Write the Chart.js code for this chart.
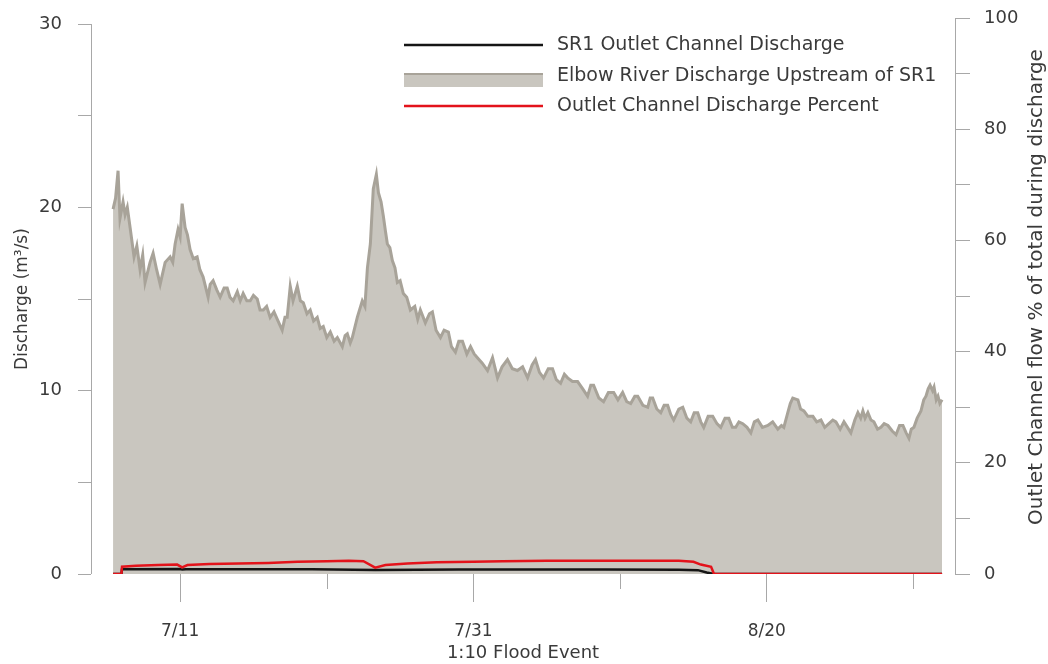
<!DOCTYPE html>
<html><head><meta charset="utf-8">
<script src="https://cdn.jsdelivr.net/npm/chart.js@4.4.1/dist/chart.umd.min.js"></script>
<style>html,body{margin:0;padding:0;background:#fff;} canvas{display:block}</style>
</head><body>
<canvas id="c" width="1048" height="664"></canvas>
<script>
// ---- data (x = day counted from June 30, so 11 = July 11, 32 = Aug 1) ----
const seriesLabels = ['SR1 Outlet Channel Discharge', 'Elbow River Discharge Upstream of SR1', 'Outlet Channel Discharge Percent'];
const xTitle = '1:10 Flood Event';
const yLeftTitle = 'Discharge (m³/s)';
const yRightTitle = 'Outlet Channel flow % of total during discharge';
const xTickValues = [11, 21, 31, 41, 51, 61];
const xTickLabels = ['7/11', '', '7/31', '', '8/20', ''];
const yLeftTicks = [0, 5, 10, 15, 20, 25, 30];
const yRightTicks = [0, 10, 20, 30, 40, 50, 60, 70, 80, 90, 100];

const elbowDays = [6.43,6.60,6.77,6.90,7.11,7.25,7.40,7.59,7.86,8.05,8.27,8.45,8.61,8.95,9.16,9.40,9.64,9.98,10.32,10.50,10.66,10.86,11.00,11.14,11.34,11.50,11.68,11.90,12.16,12.35,12.57,12.91,13.05,13.25,13.50,13.73,14.00,14.21,14.40,14.62,14.90,15.10,15.30,15.55,15.78,16.00,16.26,16.45,16.67,16.90,17.14,17.40,17.62,17.96,18.15,18.30,18.51,18.70,18.99,19.20,19.40,19.65,19.87,20.10,20.35,20.55,20.76,21.00,21.24,21.50,21.72,22.06,22.25,22.40,22.60,22.74,23.08,23.42,23.60,23.77,23.97,24.17,24.38,24.52,24.70,24.86,25.00,25.13,25.30,25.47,25.65,25.81,26.00,26.22,26.45,26.70,27.00,27.20,27.38,27.72,28.00,28.20,28.45,28.75,29.00,29.29,29.50,29.77,30.00,30.25,30.55,30.80,31.05,31.27,31.60,31.96,32.30,32.64,32.95,33.32,33.65,34.00,34.35,34.69,35.00,35.23,35.50,35.78,36.10,36.39,36.65,36.94,37.20,37.42,37.75,38.10,38.45,38.78,39.00,39.19,39.55,39.87,40.20,40.56,40.85,41.17,41.45,41.72,42.00,42.20,42.55,42.88,43.05,43.22,43.50,43.77,44.00,44.24,44.45,44.65,45.00,45.27,45.55,45.81,46.05,46.29,46.50,46.70,47.00,47.31,47.60,47.86,48.15,48.41,48.65,48.88,49.10,49.36,49.65,49.91,50.15,50.39,50.70,51.07,51.40,51.75,52.00,52.16,52.43,52.60,52.77,53.12,53.30,53.53,53.80,54.14,54.40,54.69,54.95,55.23,55.50,55.71,56.00,56.26,56.50,56.73,57.00,57.21,57.40,57.55,57.70,57.89,58.10,58.30,58.55,58.78,59.00,59.26,59.55,59.81,60.05,60.28,60.50,60.69,60.85,61.03,61.25,61.51,61.70,61.85,62.00,62.13,62.30,62.40,62.55,62.67,62.80,62.95];
const elbowFlow = [19.9,20.5,22.0,19.4,20.3,19.6,20.0,18.9,17.3,17.9,16.6,17.4,15.9,17.0,17.5,16.6,15.8,17.0,17.3,17.0,18.0,18.8,18.4,20.2,18.9,18.5,17.7,17.2,17.3,16.6,16.2,15.1,15.8,16.0,15.5,15.1,15.6,15.6,15.1,14.9,15.4,14.9,15.3,14.9,14.9,15.2,15.0,14.4,14.4,14.6,14.0,14.3,13.9,13.3,14.0,14.0,15.7,14.9,15.7,14.9,14.8,14.2,14.4,13.8,14.0,13.4,13.5,12.9,13.2,12.7,12.9,12.4,13.0,13.1,12.6,12.9,14.0,14.9,14.6,16.7,18.0,21.0,21.8,20.8,20.3,19.5,18.7,18.0,17.8,17.1,16.7,15.9,16.0,15.3,15.1,14.4,14.6,13.9,14.4,13.7,14.2,14.3,13.3,12.9,13.3,13.2,12.4,12.1,12.7,12.7,12.0,12.4,12.0,11.8,11.5,11.1,11.8,10.7,11.3,11.7,11.2,11.1,11.3,10.7,11.4,11.7,11.0,10.7,11.2,11.2,10.6,10.4,10.9,10.7,10.5,10.5,10.1,9.7,10.3,10.3,9.6,9.4,9.9,9.9,9.5,9.9,9.4,9.3,9.7,9.7,9.2,9.1,9.6,9.6,9.0,8.8,9.2,9.2,8.7,8.4,9.0,9.1,8.5,8.3,8.8,8.8,8.3,8.0,8.6,8.6,8.2,8.0,8.5,8.5,8.0,8.0,8.3,8.2,8.0,7.7,8.3,8.4,8.0,8.1,8.3,7.9,8.1,8.0,8.8,9.3,9.6,9.5,9.0,8.9,8.6,8.6,8.3,8.4,8.0,8.2,8.4,8.3,7.9,8.3,8.0,7.7,8.4,8.8,8.5,8.9,8.5,8.8,8.4,8.3,7.9,8.0,8.2,8.1,7.8,7.6,8.1,8.1,7.7,7.4,7.9,8.0,8.5,8.9,9.5,9.7,10.1,10.3,10.0,10.2,9.5,9.7,9.3,9.5];

const outletDays = [6.43, 7.00, 7.04, 11.0, 11.14, 11.4, 20.0, 24.3, 30.0, 40.0, 45.0, 46.3, 46.9, 47.4, 62.95];
const outletFlow = [0, 0, 0.26, 0.27, 0.24, 0.26, 0.26, 0.22, 0.25, 0.24, 0.23, 0.21, 0.08, 0, 0];

const percentDays = [6.43, 7.00, 7.04, 8.0, 9.5, 10.8, 11.14, 11.5, 13.0, 15.0, 17.0, 19.0, 21.0, 22.5, 23.5, 24.3, 25.0, 26.5, 28.5, 31.0, 33.0, 36.0, 40.0, 43.0, 45.0, 46.0, 46.5, 47.2, 47.4, 62.95];
const outletPercent = [0, 0, 1.3, 1.5, 1.6, 1.7, 1.2, 1.6, 1.8, 1.9, 2.0, 2.2, 2.3, 2.4, 2.3, 1.15, 1.6, 1.9, 2.1, 2.2, 2.3, 2.4, 2.4, 2.4, 2.4, 2.2, 1.7, 1.3, 0, 0];

const zip = (xs, ys) => xs.map((x, i) => ({x: x, y: ys[i]}));

const FONT = "'DejaVu Sans', sans-serif";
const TEXT = '#3a3a3a';
const AXIS = '#a8a8a8';
const COLORS = {black: '#151515', fill: '#c9c6bf', edge: '#a8a399', red: '#e3131b'};

const extras = {
  id: 'extras',
  afterDraw(chart) {
    const ctx = chart.ctx, ca = chart.chartArea;
    const xs = chart.scales.x, yl = chart.scales.y;
    ctx.save();
    // left axis line from 0 to 30
    ctx.strokeStyle = AXIS; ctx.lineWidth = 1;
    ctx.beginPath();
    ctx.moveTo(Math.round(ca.left) + 0.5, yl.getPixelForValue(30));
    ctx.lineTo(Math.round(ca.left) + 0.5, yl.getPixelForValue(0));
    ctx.stroke();
    // minor x ticks (shorter)
    xTickValues.forEach((v, i) => {
      if (xTickLabels[i]) return;
      const px = Math.round(xs.getPixelForValue(v)) + 0.5;
      ctx.beginPath(); ctx.moveTo(px, ca.bottom); ctx.lineTo(px, ca.bottom + 15); ctx.stroke();
    });
    // axis titles
    ctx.fillStyle = TEXT;
    ctx.textAlign = 'center'; ctx.textBaseline = 'middle';
    ctx.font = '17px ' + FONT;
    ctx.save(); ctx.translate(23, (yl.getPixelForValue(30) + ca.bottom) / 2); ctx.rotate(-Math.PI / 2); ctx.fillText(yLeftTitle, 0, 0); ctx.restore();
    ctx.font = '20px ' + FONT;
    ctx.save(); ctx.translate(1037, 287); ctx.rotate(-Math.PI / 2); ctx.fillText(yRightTitle, 0, 0); ctx.restore();
    // legend
    const lx0 = 404, lx1 = 543, tx = 557, rows = [45, 80, 106];
    ctx.font = '19px ' + FONT;
    ctx.textAlign = 'left';
    // row 1 black
    ctx.strokeStyle = COLORS.black; ctx.lineWidth = 2.5;
    ctx.beginPath(); ctx.moveTo(lx0, rows[0]); ctx.lineTo(lx1, rows[0]); ctx.stroke();
    ctx.fillText(chart.data.datasets[1].label, tx, rows[0]);
    // row 2 grey band
    ctx.fillStyle = COLORS.fill; ctx.fillRect(lx0, rows[1] - 6, lx1 - lx0, 13);
    ctx.fillStyle = COLORS.edge; ctx.fillRect(lx0, rows[1] - 7, lx1 - lx0, 2);
    ctx.fillStyle = TEXT;
    ctx.fillText(chart.data.datasets[2].label, tx, rows[1] - 4);
    // row 3 red
    ctx.strokeStyle = COLORS.red; ctx.lineWidth = 2.5;
    ctx.beginPath(); ctx.moveTo(lx0, rows[2]); ctx.lineTo(lx1, rows[2]); ctx.stroke();
    ctx.fillText(chart.data.datasets[0].label, tx, rows[2]);
    ctx.restore();
  }
};

new Chart(document.getElementById('c'), {
  type: 'line',
  data: {
    datasets: [
      {label: seriesLabels[2], data: zip(percentDays, outletPercent), yAxisID: 'y1', borderColor: COLORS.red, borderWidth: 2.5, pointRadius: 0, fill: false, tension: 0, order: 0},
      {label: seriesLabels[0], data: zip(outletDays, outletFlow), yAxisID: 'y', borderColor: COLORS.black, borderWidth: 2.5, pointRadius: 0, fill: false, tension: 0, order: 1},
      {label: seriesLabels[1], data: zip(elbowDays, elbowFlow), yAxisID: 'y', borderColor: COLORS.edge, backgroundColor: COLORS.fill, borderWidth: 3, pointRadius: 0, fill: 'origin', tension: 0, order: 2}
    ]
  },
  options: {
    responsive: false, animation: false, devicePixelRatio: 1,
    layout: {padding: {top: 18, left: 0, right: 0, bottom: 0}},
    plugins: {legend: {display: false}, tooltip: {enabled: false}},
    scales: {
      x: {
        type: 'linear', min: 4.925, max: 63.83,
        afterBuildTicks: s => { s.ticks = xTickValues.map(v => ({value: v})); },
        afterFit: s => { s.height = 90; s.paddingLeft = 0; s.paddingRight = 0; },
        border: {display: false},
        grid: {drawOnChartArea: false, drawTicks: true, tickLength: 28, tickColor: c => (xTickLabels[xTickValues.indexOf(c.tick && c.tick.value)] ? AXIS : 'rgba(0,0,0,0)')},
        ticks: {padding: 19, maxRotation: 0, autoSkip: false, color: TEXT, font: {family: FONT, size: 17},
          callback: (v) => xTickLabels[xTickValues.indexOf(v)] || ''},
        title: {display: true, text: xTitle, color: TEXT, font: {family: FONT, size: 18}, padding: {top: 0, bottom: 0}}
      },
      y: {
        position: 'left', min: 0, max: 30.33,
        afterBuildTicks: s => { s.ticks = yLeftTicks.map(v => ({value: v})); },
        afterFit: s => { s.width = 91; s.paddingTop = 0; s.paddingBottom = 0; },
        border: {display: false},
        grid: {drawOnChartArea: false, drawTicks: true, tickLength: 13, tickColor: AXIS},
        ticks: {padding: 16, color: TEXT, font: {family: FONT, size: 18}, callback: v => (v % 10 === 0 ? String(v) : '')}
      },
      y1: {
        position: 'right', min: 0, max: 100,
        afterBuildTicks: s => { s.ticks = yRightTicks.map(v => ({value: v})); },
        afterFit: s => { s.width = 93; s.paddingTop = 0; s.paddingBottom = 0; },
        border: {display: true, color: AXIS, width: 1},
        grid: {drawOnChartArea: false, drawTicks: true, tickLength: 15, tickColor: AXIS},
        ticks: {padding: 14, color: TEXT, font: {family: FONT, size: 18}, callback: v => (v % 20 === 0 ? String(v) : '')}
      }
    }
  },
  plugins: [extras]
});
</script>
</body></html>
